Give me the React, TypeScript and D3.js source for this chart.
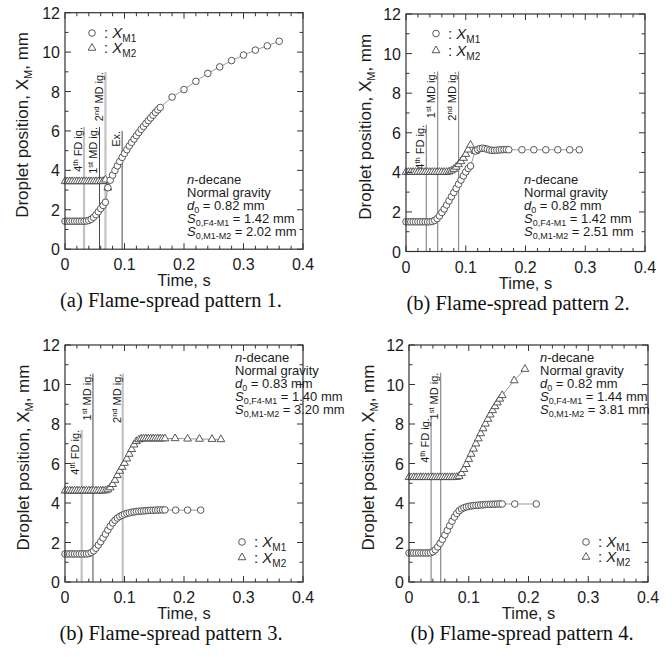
import React from 'react';
import * as d3 from 'd3';

type Pt = [number, number];

const X_MAJOR = [0, 0.1, 0.2, 0.3, 0.4];
const X_MINOR = [0.02, 0.04, 0.06, 0.08, 0.12, 0.14, 0.16, 0.18, 0.22, 0.24, 0.26, 0.28, 0.32, 0.34, 0.36, 0.38];
const Y_MAJOR = [0, 2, 4, 6, 8, 10, 12];
const Y_MINOR = [1, 3, 5, 7, 9, 11];

// Pattern 1
const P1_M1: Pt[] = [
  [0, 1.42], [0.004, 1.42], [0.008, 1.42], [0.012, 1.42], [0.016, 1.42], [0.02, 1.42], [0.024, 1.42], [0.028, 1.42],
  [0.032, 1.42], [0.036, 1.43], [0.04, 1.46], [0.044, 1.52], [0.048, 1.62], [0.052, 1.75], [0.056, 1.9], [0.06, 2.06],
  [0.064, 2.22], [0.068, 2.38], [0.072, 3.12], [0.076, 3.5], [0.08, 3.76], [0.084, 4.0], [0.088, 4.23], [0.092, 4.45],
  [0.096, 4.66], [0.1, 4.86], [0.104, 5.05], [0.108, 5.24], [0.112, 5.42], [0.116, 5.59], [0.12, 5.76], [0.124, 5.92],
  [0.128, 6.08], [0.132, 6.23], [0.136, 6.38], [0.14, 6.52], [0.144, 6.66], [0.148, 6.8], [0.152, 6.94], [0.156, 7.07],
  [0.16, 7.19], [0.18, 7.72], [0.2, 8.1], [0.22, 8.52], [0.24, 8.92], [0.26, 9.25], [0.28, 9.57], [0.3, 9.85],
  [0.32, 10.1], [0.34, 10.32], [0.36, 10.55],
];
const P1_M2: Pt[] = [
  [0, 3.44], [0.004, 3.44], [0.008, 3.44], [0.012, 3.44], [0.016, 3.44], [0.02, 3.44], [0.024, 3.44], [0.028, 3.44],
  [0.032, 3.44], [0.036, 3.44], [0.04, 3.44], [0.044, 3.44], [0.048, 3.44], [0.052, 3.44], [0.056, 3.44], [0.06, 3.44],
  [0.064, 3.45], [0.068, 3.52], [0.072, 3.12],
];
const P1_EVENTS = [
  { label: '4th FD ig.', t: 0.032, top: 6.2 },
  { label: '1st MD ig.', t: 0.058, top: 6.2 },
  { label: '2nd MD ig.', t: 0.068, top: 9.0 },
  { label: 'Ex.', t: 0.096, top: 6.0 },
];
const P1_INFO = ['0.82', '1.42', '2.02'];

// Pattern 2
const P2_M1: Pt[] = [
  [0, 1.5], [0.004, 1.5], [0.008, 1.5], [0.012, 1.5], [0.016, 1.5], [0.02, 1.5], [0.024, 1.5], [0.028, 1.5],
  [0.032, 1.5], [0.036, 1.5], [0.04, 1.5], [0.044, 1.52], [0.048, 1.57], [0.052, 1.66], [0.056, 1.8], [0.06, 1.97],
  [0.064, 2.15], [0.068, 2.35], [0.072, 2.56], [0.076, 2.77], [0.08, 2.98], [0.084, 3.19], [0.088, 3.4], [0.092, 3.61],
  [0.096, 3.82], [0.1, 4.02], [0.104, 4.2], [0.108, 4.32], [0.116, 5.08], [0.12, 5.15], [0.124, 5.2], [0.128, 5.22],
  [0.132, 5.2], [0.136, 5.17], [0.14, 5.13], [0.144, 5.11], [0.148, 5.11], [0.152, 5.12], [0.156, 5.13], [0.16, 5.14],
  [0.164, 5.15], [0.168, 5.15], [0.172, 5.14], [0.194, 5.14], [0.214, 5.14], [0.234, 5.14], [0.254, 5.14], [0.274, 5.14],
  [0.29, 5.14],
];
const P2_M2: Pt[] = [
  [0, 4.01], [0.004, 4.01], [0.008, 4.01], [0.012, 4.01], [0.016, 4.01], [0.02, 4.01], [0.024, 4.01], [0.028, 4.01],
  [0.032, 4.01], [0.036, 4.01], [0.04, 4.01], [0.044, 4.01], [0.048, 4.01], [0.052, 4.01], [0.056, 4.01], [0.06, 4.01],
  [0.064, 4.01], [0.068, 4.01], [0.072, 4.03], [0.076, 4.08], [0.08, 4.16], [0.084, 4.27], [0.088, 4.4], [0.092, 4.55],
  [0.096, 4.72], [0.1, 4.92], [0.104, 5.14], [0.108, 5.38], [0.116, 5.06],
];
const P2_EVENTS = [
  { label: '4th FD ig.', t: 0.034, top: 6.4 },
  { label: '1st MD ig.', t: 0.053, top: 9.1 },
  { label: '2nd MD ig.', t: 0.088, top: 9.1 },
];
const P2_INFO = ['0.82', '1.42', '2.51'];

// Pattern 3
const P3_M1: Pt[] = [
  [0, 1.42], [0.004, 1.42], [0.008, 1.42], [0.012, 1.42], [0.016, 1.42], [0.02, 1.42], [0.024, 1.42], [0.028, 1.42],
  [0.032, 1.42], [0.036, 1.42], [0.04, 1.44], [0.044, 1.49], [0.048, 1.58], [0.052, 1.71], [0.056, 1.87], [0.06, 2.04],
  [0.064, 2.23], [0.068, 2.43], [0.072, 2.63], [0.076, 2.82], [0.08, 2.99], [0.084, 3.13], [0.088, 3.24], [0.092, 3.32],
  [0.096, 3.38], [0.1, 3.43], [0.104, 3.47], [0.108, 3.5], [0.112, 3.53], [0.116, 3.55], [0.12, 3.57], [0.124, 3.58],
  [0.128, 3.59], [0.132, 3.6], [0.136, 3.61], [0.14, 3.62], [0.144, 3.63], [0.148, 3.63], [0.152, 3.64], [0.156, 3.64],
  [0.16, 3.65], [0.164, 3.65], [0.168, 3.65], [0.186, 3.64], [0.206, 3.64], [0.228, 3.64],
];
const P3_M2: Pt[] = [
  [0, 4.62], [0.004, 4.62], [0.008, 4.62], [0.012, 4.62], [0.016, 4.62], [0.02, 4.62], [0.024, 4.62], [0.028, 4.62],
  [0.032, 4.62], [0.036, 4.62], [0.04, 4.62], [0.044, 4.62], [0.048, 4.62], [0.052, 4.62], [0.056, 4.62], [0.06, 4.62],
  [0.064, 4.62], [0.068, 4.63], [0.072, 4.68], [0.076, 4.78], [0.08, 4.95], [0.084, 5.16], [0.088, 5.4], [0.092, 5.62],
  [0.096, 5.82], [0.1, 6.02], [0.104, 6.24], [0.108, 6.48], [0.112, 6.72], [0.116, 6.95], [0.12, 7.12], [0.124, 7.21],
  [0.128, 7.25], [0.132, 7.26], [0.136, 7.26], [0.14, 7.26], [0.144, 7.26], [0.148, 7.26], [0.152, 7.26], [0.156, 7.26],
  [0.16, 7.26], [0.164, 7.26], [0.168, 7.26], [0.185, 7.27], [0.206, 7.25], [0.226, 7.24], [0.247, 7.23], [0.262, 7.22],
];
const P3_EVENTS = [
  { label: '4th FD ig.', t: 0.028, top: 7.7 },
  { label: '1st MD ig.', t: 0.047, top: 10.55 },
  { label: '2nd MD ig.', t: 0.097, top: 10.55 },
];
const P3_INFO = ['0.83', '1.40', '3.20'];

// Pattern 4
const P4_M1: Pt[] = [
  [0, 1.47], [0.004, 1.47], [0.008, 1.47], [0.012, 1.47], [0.016, 1.47], [0.02, 1.47], [0.024, 1.47], [0.028, 1.47],
  [0.032, 1.47], [0.036, 1.48], [0.04, 1.53], [0.044, 1.63], [0.048, 1.78], [0.052, 1.96], [0.056, 2.16], [0.06, 2.38],
  [0.064, 2.61], [0.068, 2.85], [0.072, 3.08], [0.076, 3.29], [0.08, 3.47], [0.084, 3.61], [0.088, 3.7], [0.092, 3.76],
  [0.096, 3.8], [0.1, 3.83], [0.104, 3.85], [0.108, 3.87], [0.112, 3.88], [0.116, 3.89], [0.12, 3.9], [0.124, 3.91],
  [0.128, 3.92], [0.132, 3.93], [0.136, 3.93], [0.14, 3.94], [0.144, 3.94], [0.148, 3.95], [0.152, 3.95], [0.156, 3.95],
  [0.177, 3.95], [0.213, 3.95],
];
const P4_M2: Pt[] = [
  [0, 5.3], [0.004, 5.3], [0.008, 5.3], [0.012, 5.3], [0.016, 5.3], [0.02, 5.3], [0.024, 5.3], [0.028, 5.3],
  [0.032, 5.3], [0.036, 5.3], [0.04, 5.3], [0.044, 5.3], [0.048, 5.3], [0.052, 5.3], [0.056, 5.3], [0.06, 5.3],
  [0.064, 5.3], [0.068, 5.3], [0.072, 5.3], [0.076, 5.3], [0.08, 5.31], [0.084, 5.36], [0.088, 5.5], [0.092, 5.71],
  [0.096, 5.96], [0.1, 6.22], [0.104, 6.48], [0.108, 6.74], [0.112, 7.0], [0.116, 7.26], [0.12, 7.52], [0.124, 7.77],
  [0.128, 8.01], [0.132, 8.25], [0.136, 8.47], [0.14, 8.69], [0.144, 8.89], [0.148, 9.08], [0.152, 9.27], [0.156, 9.45],
  [0.176, 10.2], [0.194, 10.78],
];
const P4_EVENTS = [
  { label: '4th FD ig.', t: 0.037, top: 8.3 },
  { label: '1st MD ig.', t: 0.053, top: 10.6 },
];
const P4_INFO = ['0.82', '1.44', '3.81'];

const CAPTIONS = [
  '(a) Flame-spread pattern 1.',
  '(b) Flame-spread pattern 2.',
  '(b) Flame-spread pattern 3.',
  '(b) Flame-spread pattern 4.',
];

const SANS = 'Liberation Sans, Arial, Helvetica, sans-serif';
const SERIF = 'Liberation Serif, Times New Roman, serif';
const INK = '#1c1c1c';

const LINE_STYLES: Record<string, { stroke: string; width: number }> = {
  light: { stroke: '#c2c2c2', width: 2.2 },
  dark: { stroke: '#4a4a4a', width: 1 },
  mid: { stroke: '#8c8c8c', width: 1.2 },
};

type Ev = { label: string; t: number; top: number };

interface PanelProps {
  left: number;
  top: number;
  w: number;
  h: number;
  m1: Pt[];
  m2: Pt[];
  events: Ev[];
  evStyles: string[];
  info: string[];
  infoX: number;
  infoY: number;
  legX: number;
  legY: number;
  legGap: number;
  caption: string;
  capX: number;
  yLabX: number;
}

function EventLabel({ label }: { label: string }) {
  const m = label.match(/^(\d)(th|st|nd)(.*)$/);
  if (!m) return <>{label}</>;
  return (
    <>
      <tspan>{m[1]}</tspan>
      <tspan dy={-4} fontSize={7.5}>{m[2]}</tspan>
      <tspan dy={4}>{m[3]}</tspan>
    </>
  );
}

function Panel(p: PanelProps) {
  const x = d3.scaleLinear().domain([0, 0.4]).range([p.left, p.left + p.w]);
  const y = d3.scaleLinear().domain([0, 12]).range([p.top + p.h, p.top]);
  const line = d3.line<Pt>().x((d) => x(d[0])).y((d) => y(d[1]));
  const tri = d3.symbol().type(d3.symbolTriangle).size(26)();
  const bottom = p.top + p.h;
  const right = p.left + p.w;
  const MAJ = 6;
  const MIN = 3.5;
  const tickStroke = '#333';
  const LH = 13;

  return (
    <g>
      {/* event lines */}
      {p.events.map((e, i) => {
        const st = LINE_STYLES[p.evStyles[i]];
        return (
          <line key={'ev' + i} x1={x(e.t)} x2={x(e.t)} y1={bottom} y2={y(e.top)} stroke={st.stroke} strokeWidth={st.width} />
        );
      })}
      {p.events.map((e, i) => (
        <text
          key={'evl' + i}
          transform={`translate(${x(e.t) - 2.2},${y(e.top)}) rotate(-90)`}
          textAnchor="end"
          fontFamily={SANS}
          fontSize={11}
          fill={INK}
        >
          <EventLabel label={e.label} />
        </text>
      ))}

      {/* series lines */}
      <path d={line(p.m2) || ''} fill="none" stroke="#9a9a9a" strokeWidth={1} />
      <path d={line(p.m1) || ''} fill="none" stroke="#9a9a9a" strokeWidth={1} />
      {p.m2.map((d, i) => (
        <path key={'t' + i} d={tri} transform={`translate(${x(d[0])},${y(d[1])})`} fill="#fff" stroke="#454545" strokeWidth={0.9} />
      ))}
      {p.m1.map((d, i) => (
        <circle key={'c' + i} cx={x(d[0])} cy={y(d[1])} r={3.3} fill="#fff" stroke="#454545" strokeWidth={0.9} />
      ))}

      {/* frame */}
      <rect x={p.left} y={p.top} width={p.w} height={p.h} fill="none" stroke="#333" strokeWidth={1.2} />
      {X_MAJOR.map((v) => (
        <g key={'xM' + v}>
          <line x1={x(v)} x2={x(v)} y1={bottom} y2={bottom - MAJ} stroke={tickStroke} />
          <line x1={x(v)} x2={x(v)} y1={p.top} y2={p.top + MAJ} stroke={tickStroke} />
          <text x={x(v)} y={bottom + 21} textAnchor="middle" fontFamily={SANS} fontSize={16} fill={INK}>
            {d3.format('')(v)}
          </text>
        </g>
      ))}
      {X_MINOR.map((v) => (
        <g key={'xm' + v}>
          <line x1={x(v)} x2={x(v)} y1={bottom} y2={bottom - MIN} stroke={tickStroke} />
          <line x1={x(v)} x2={x(v)} y1={p.top} y2={p.top + MIN} stroke={tickStroke} />
        </g>
      ))}
      {Y_MAJOR.map((v) => (
        <g key={'yM' + v}>
          <line x1={p.left} x2={p.left + MAJ} y1={y(v)} y2={y(v)} stroke={tickStroke} />
          <line x1={right} x2={right - MAJ} y1={y(v)} y2={y(v)} stroke={tickStroke} />
          <text x={p.left - 5} y={y(v) + 6} textAnchor="end" fontFamily={SANS} fontSize={16} fill={INK}>
            {v}
          </text>
        </g>
      ))}
      {Y_MINOR.map((v) => (
        <g key={'ym' + v}>
          <line x1={p.left} x2={p.left + MIN} y1={y(v)} y2={y(v)} stroke={tickStroke} />
          <line x1={right} x2={right - MIN} y1={y(v)} y2={y(v)} stroke={tickStroke} />
        </g>
      ))}

      {/* axis titles */}
      <text x={(p.left + right) / 2} y={bottom + 37} textAnchor="middle" fontFamily={SANS} fontSize={16.5} fill={INK}>
        Time, s
      </text>
      <text
        transform={`translate(${p.yLabX},${p.top + p.h / 2 - 6}) rotate(-90)`}
        textAnchor="middle"
        fontFamily={SANS}
        fontSize={17}
        fill={INK}
      >
        Droplet position, X<tspan dy={4} fontSize={11}>M</tspan>
        <tspan dy={-4}>, mm</tspan>
      </text>

      {/* legend */}
      <circle cx={p.legX} cy={p.legY} r={3.3} fill="#fff" stroke="#454545" strokeWidth={0.9} />
      <path d={tri} transform={`translate(${p.legX},${p.legY + p.legGap})`} fill="#fff" stroke="#454545" strokeWidth={0.9} />
      <text x={p.legX + 12} y={p.legY + 5} fontFamily={SANS} fontSize={15} fill={INK}>
        : <tspan fontStyle="italic">X</tspan>
        <tspan dy={4} fontSize={10}>M1</tspan>
        <tspan x={p.legX + 12} dy={p.legGap - 4}>: </tspan>
        <tspan fontStyle="italic">X</tspan>
        <tspan dy={4} fontSize={10}>M2</tspan>
      </text>

      {/* info block */}
      <text x={p.infoX} y={p.infoY} fontFamily={SANS} fontSize={13} fill={INK}>
        <tspan fontStyle="italic">n</tspan>
        <tspan>-decane</tspan>
        <tspan x={p.infoX} dy={LH}>Normal gravity</tspan>
        <tspan x={p.infoX} dy={LH} fontStyle="italic">d</tspan>
        <tspan dy={3} fontSize={9}>0</tspan>
        <tspan dy={-3}>{` = ${p.info[0]} mm`}</tspan>
        <tspan x={p.infoX} dy={LH} fontStyle="italic">S</tspan>
        <tspan dy={3} fontSize={9}>0,F4-M1</tspan>
        <tspan dy={-3}>{` = ${p.info[1]} mm`}</tspan>
        <tspan x={p.infoX} dy={LH} fontStyle="italic">S</tspan>
        <tspan dy={3} fontSize={9}>0,M1-M2</tspan>
        <tspan dy={-3}>{` = ${p.info[2]} mm`}</tspan>
      </text>

      {/* caption */}
      <text x={p.capX} y={bottom + 58} textAnchor="middle" fontFamily={SERIF} fontSize={20.5} fill="#111">
        {p.caption}
      </text>
    </g>
  );
}

export default function App() {
  return (
    <svg width={672} height={657} style={{ position: 'absolute', left: 0, top: 0, background: '#fff' }}>
      <rect x={0} y={0} width={672} height={657} fill="#fff" />
      <Panel
        left={65} top={12.7} w={238} h={236.5}
        m1={P1_M1} m2={P1_M2} events={P1_EVENTS} evStyles={['light', 'dark', 'light', 'dark']}
        info={P1_INFO} infoX={187} infoY={183.5}
        legX={92} legY={33} legGap={15}
        caption={CAPTIONS[0]} capX={171} yLabX={28}
      />
      <Panel
        left={406} top={14} w={239} h={237.5}
        m1={P2_M1} m2={P2_M2} events={P2_EVENTS} evStyles={['mid', 'mid', 'mid']}
        info={P2_INFO} infoX={524} infoY={183.5}
        legX={436} legY={33.5} legGap={17}
        caption={CAPTIONS[1]} capX={518} yLabX={370.5}
      />
      <Panel
        left={65} top={345} w={238} h={237}
        m1={P3_M1} m2={P3_M2} events={P3_EVENTS} evStyles={['light', 'dark', 'light']}
        info={P3_INFO} infoX={235} infoY={362}
        legX={242} legY={542} legGap={15.5}
        caption={CAPTIONS[2]} capX={171} yLabX={28.5}
      />
      <Panel
        left={409} top={345} w={239} h={237}
        m1={P4_M1} m2={P4_M2} events={P4_EVENTS} evStyles={['mid', 'mid']}
        info={P4_INFO} infoX={540} infoY={362}
        legX={586} legY={542} legGap={15}
        caption={CAPTIONS[3]} capX={522} yLabX={374}
      />
    </svg>
  );
}
